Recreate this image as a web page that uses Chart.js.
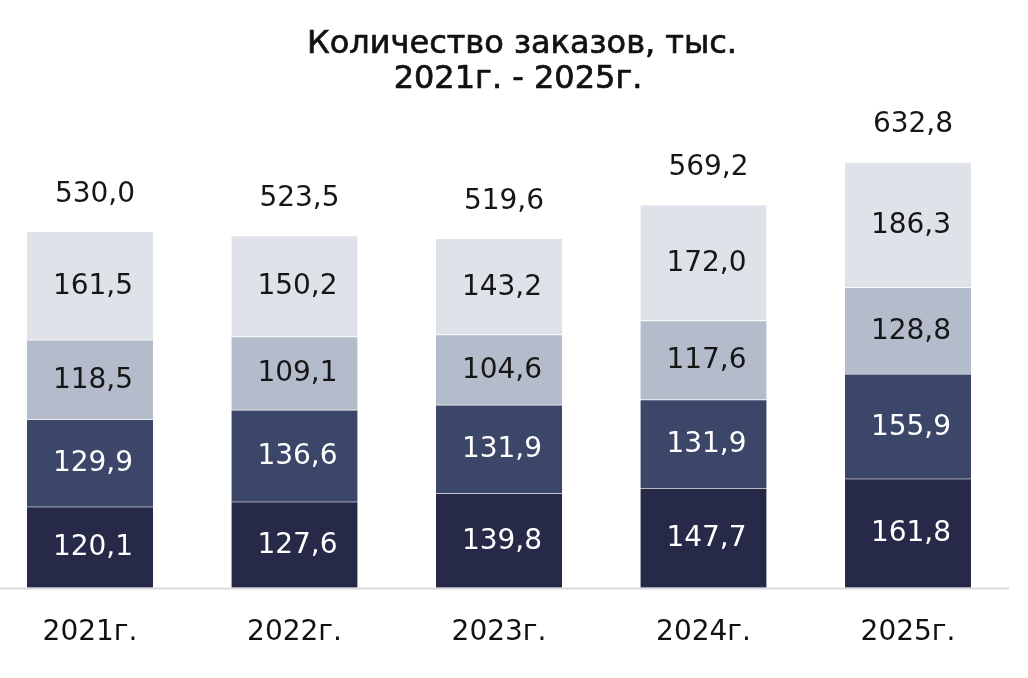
<!DOCTYPE html>
<html>
<head>
<meta charset="utf-8">
<script src="https://cdn.jsdelivr.net/npm/chart.js@4/dist/chart.umd.min.js"></script>
<style>
  html, body { margin: 0; padding: 0; background: #fff; }
  #wrap { width: 1028px; height: 678px; }
</style>
</head>
<body>
<div id="wrap"><canvas id="canvas"></canvas></div>
<script>
const years = ['2021г.', '2022г.', '2023г.', '2024г.', '2025г.']
const part1 = [120.1, 127.6, 139.8, 147.7, 161.8]
const part2 = [129.9, 136.6, 131.9, 131.9, 155.9]
const part3 = [118.5, 109.1, 104.6, 117.6, 128.8]
const part4 = [161.5, 150.2, 143.2, 172.0, 186.3]
const totals = [530.0, 523.5, 519.6, 569.2, 632.8]
const titleLines = ['Количество заказов, тыс.', '2021г. - 2025г.']

const fmt = v => v.toFixed(1).replace('.', ',')
const labelFont = '28px "DejaVu Sans"'

// title drawn by hand so it can sit a bit right of the plot center
const titlePlugin = {
    id: 'titleText',
    afterDraw(chart) {
        const ctx = chart.ctx
        ctx.save()
        ctx.fillStyle = '#111'
        ctx.strokeStyle = '#111'
        ctx.lineWidth = 0.7
        ctx.font = '32px "DejaVu Sans"'
        ctx.textAlign = 'center'
        ctx.textBaseline = 'middle'
        ctx.fillText(titleLines[0], 522, 45)
        ctx.strokeText(titleLines[0], 522, 45)
        ctx.fillText(titleLines[1], 518, 80)
        ctx.strokeText(titleLines[1], 518, 80)
        ctx.restore()
    }
}

const baseline = {
    id: 'baseline',
    beforeDatasetsDraw(chart) {
        const ctx = chart.ctx
        const y = chart.scales.y.getPixelForValue(0) + 1
        ctx.save()
        ctx.strokeStyle = '#d9d9d9'
        ctx.lineWidth = 2
        ctx.beginPath()
        ctx.moveTo(0, y)
        ctx.lineTo(1009, y)
        ctx.stroke()
        ctx.restore()
    }
}

const barLabels = {
    id: 'barLabels',
    afterDatasetsDraw(chart) {
        const ctx = chart.ctx
        ctx.save()
        ctx.font = labelFont
        ctx.textAlign = 'center'
        ctx.textBaseline = 'middle'
        chart.data.datasets.forEach((ds, di) => {
            const meta = chart.getDatasetMeta(di)
            meta.data.forEach((bar, i) => {
                ctx.fillStyle = di < 2 ? '#ffffff' : '#161616'
                ctx.fillText(fmt(ds.data[i]), bar.x + 3, (bar.y + bar.base) / 2 + 1)
            })
        })
        const top = chart.getDatasetMeta(chart.data.datasets.length - 1)
        ctx.fillStyle = '#161616'
        top.data.forEach((bar, i) => {
            ctx.fillText(fmt(totals[i]), bar.x + 5, bar.y - 37)
        })
        ctx.restore()
    }
}

const segBorder = {top: 1, right: 0, bottom: 0, left: 0}

const chart = new Chart(document.getElementById('canvas').getContext('2d'), {
    type: 'bar',
    data: {
        labels: years,
        datasets: [
            {label: 'part1', data: part1, backgroundColor: '#262a48', borderColor: 'rgba(255,255,255,0.15)', borderWidth: segBorder},
            {label: 'part2', data: part2, backgroundColor: '#3b4669', borderColor: 'rgba(255,255,255,0.15)', borderWidth: segBorder},
            {label: 'part3', data: part3, backgroundColor: '#b4bbca', borderColor: 'rgba(255,255,255,0.25)', borderWidth: segBorder},
            {label: 'part4', data: part4, backgroundColor: '#dfe2e8', borderColor: 'rgba(255,255,255,0.4)', borderWidth: segBorder},
        ],
    },
    options: {
        responsive: true,
        maintainAspectRatio: false,
        animation: false,
        devicePixelRatio: 1,
        layout: {
            padding: {left: 90, right: 120, top: 117, bottom: 7},
        },
        datasets: {
            bar: {
                barThickness: 126,
                clip: false,
            },
        },
        plugins: {
            legend: {display: false},
            tooltip: {enabled: false},
            title: {display: false},
        },
        scales: {
            x: {
                stacked: true,
                offset: false,
                grid: {display: false},
                border: {display: false},
                ticks: {
                    color: '#111',
                    padding: 21,
                    font: {family: 'DejaVu Sans', size: 28},
                    maxRotation: 0,
                },
            },
            y: {
                stacked: true,
                display: false,
                min: 0,
                max: 700,
            },
        },
    },
    plugins: [titlePlugin, baseline, barLabels],
})
</script>
</body>
</html>
